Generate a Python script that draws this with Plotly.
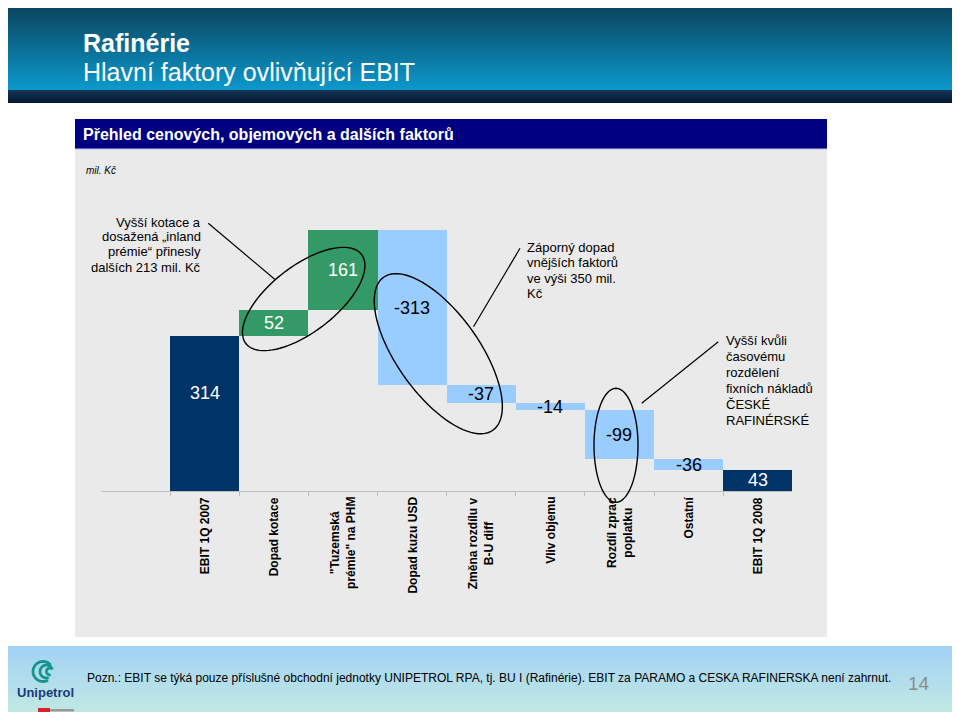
import numpy as np
import plotly.graph_objects as go

# ---------------- data ----------------
categories = ["EBIT 1Q 2007", "Dopad kotace", "\"Tuzemská<br>prémie\" na PHM",
              "Dopad kuzu USD", "Změna rozdílu v<br>B-U diff", "Vliv objemu",
              "Rozdíl zprac<br>poplatku", "Ostatní", "EBIT 1Q 2008"]
values = [314, 52, 161, -313, -37, -14, -99, -36, 43]
measures = ["total", "delta", "delta", "delta", "delta", "delta", "delta", "delta", "total"]

title_main = "Rafinérie"
title_sub = "Hlavní faktory ovlivňující EBIT"
section_title = "Přehled cenových, objemových a dalších faktorů"
unit_label = "mil. Kč"
note_lines_1 = ["Vyšší kotace a", "dosažená „inland", "prémie“ přinesly", "dalších 213 mil. Kč"]
note_lines_2 = ["Záporný dopad", "vnějších faktorů", "ve výši 350 mil.", "Kč"]
note_lines_3 = ["Vyšší kvůli", "časovému", "rozdělení", "fixních nákladů", "ČESKÉ", "RAFINÉRSKÉ"]
footer_text = ("Pozn.: EBIT se týká pouze příslušné obchodní jednotky UNIPETROL RPA, tj. BU I "
               "(Rafinérie). EBIT za PARAMO a CESKA RAFINERSKA není zahrnut.")
page_number = "14"

# ---------------- waterfall geometry from data ----------------
lows, highs = [], []
running = 0
for i, (v, m) in enumerate(zip(values, measures)):
    if m == "total":
        lo, hi = 0, v
        running = v
    else:
        lo = running
        hi = running + v
        # the chart closes the last step onto the following total
        if i + 1 < len(values) and measures[i + 1] == "total":
            hi = values[i + 1]
        running = hi
    lows.append(lo)
    highs.append(hi)

NAVY, GREEN, LIGHT = "#003366", "#339966", "#99CCFF"
bar_colors = []
text_colors = []
for v, m in zip(values, measures):
    if m == "total":
        bar_colors.append(NAVY); text_colors.append("white")
    elif v >= 0:
        bar_colors.append(GREEN); text_colors.append("white")
    else:
        bar_colors.append(LIGHT); text_colors.append("black")

W, H = 960, 716
OFF = 8          # page body margin of the html page
PAD = 3          # annotation inner padding
FONT = "Liberation Sans, Arial, sans-serif"


def X(px):
    return (px - OFF) / W


def Y(py):
    return 1 - (py - OFF) / H


fig = go.Figure()
fig.add_trace(go.Bar(
    x=categories,
    y=[abs(h - l) for l, h in zip(lows, highs)],
    base=[min(l, h) for l, h in zip(lows, highs)],
    marker=dict(color=bar_colors, line=dict(width=0)),
    width=1.0,
    hoverinfo="skip",
    showlegend=False,
))

shapes = []
annotations = []


def grad_rect(x0, x1, y0, y1, c0, c1, steps=None):
    n = steps or int(y1 - y0)
    for k in range(n):
        t = k / max(n - 1, 1)
        c = tuple(int(round(c0[j] + (c1[j] - c0[j]) * t)) for j in range(3))
        ya = y0 + (y1 - y0) * k / n
        yb = y0 + (y1 - y0) * (k + 1) / n + 0.6
        shapes.append(dict(type="rect", xref="paper", yref="paper", layer="below",
                           x0=X(x0), x1=X(x1), y0=Y(ya), y1=Y(min(yb, y1)),
                           fillcolor="rgb(%d,%d,%d)" % c, line=dict(width=0)))


# banner
grad_rect(5, 970, 0, 90, (10, 62, 84), (12, 152, 204))
grad_rect(5, 970, 90, 103, (18, 52, 84), (6, 26, 50))
# section header & panel
shapes.append(dict(type="rect", xref="paper", yref="paper", layer="below",
                   x0=X(75), x1=X(827), y0=Y(637), y1=Y(149),
                   fillcolor="#EAEAEA", line=dict(width=0)))
shapes.append(dict(type="rect", xref="paper", yref="paper", layer="below",
                   x0=X(75), x1=X(827), y0=Y(149), y1=Y(119),
                   fillcolor="#000080", line=dict(width=0)))
shapes.append(dict(type="line", xref="paper", yref="paper", layer="below",
                   x0=X(75), x1=X(827), y0=Y(149), y1=Y(149),
                   line=dict(color="#B8C4F0", width=1)))
# footer
grad_rect(5, 957, 646, 712, (162, 210, 246), (192, 232, 226))


def ellipse_path(cx, cy, a, b, phi_deg, n=90):
    phi = np.radians(phi_deg)
    t = np.linspace(0, 2 * np.pi, n, endpoint=False)
    xs = cx + a * np.cos(t) * np.cos(phi) - b * np.sin(t) * np.sin(phi)
    ys = cy + a * np.cos(t) * np.sin(phi) + b * np.sin(t) * np.cos(phi)
    pts = ["%s%.5f,%.5f" % ("M" if k == 0 else "L", X(x), Y(y)) for k, (x, y) in enumerate(zip(xs, ys))]
    return " ".join(pts) + " Z"


for (cx, cy, a, b, phi) in [(303.7, 299, 73, 33, -37.6), (438.3, 353.7, 94, 41, 54.4), (616, 445.3, 57, 22, 90)]:
    shapes.append(dict(type="path", xref="paper", yref="paper", layer="above",
                       path=ellipse_path(cx, cy, a, b, phi),
                       line=dict(color="black", width=1.4), fillcolor="rgba(0,0,0,0)"))

for (x0, y0, x1, y1) in [(208.3, 223.3, 275, 279.5), (520, 248.3, 473.5, 326.7), (718.3, 341.7, 641.7, 403.3)]:
    shapes.append(dict(type="line", xref="paper", yref="paper", layer="above",
                       x0=X(x0), y0=Y(y0), x1=X(x1), y1=Y(y1),
                       line=dict(color="black", width=1.2)))


# logo (approximation)
def arc_path(cx, cy, r, a0, a1, n=40):
    t = np.radians(np.linspace(a0, a1, n))
    xs = cx + r * np.cos(t)
    ys = cy - r * np.sin(t)
    return " ".join("%s%.5f,%.5f" % ("M" if k == 0 else "L", X(x), Y(y)) for k, (x, y) in enumerate(zip(xs, ys)))


for r, (a0, a1), cx in [(10, (40, 300), 43), (6.5, (40, 290), 46.5), (3.5, (40, 280), 50)]:
    shapes.append(dict(type="path", xref="paper", yref="paper", layer="above",
                       path=arc_path(cx, 671.5, r, a0, a1),
                       line=dict(color="#12968A", width=2.8)))
shapes.append(dict(type="rect", xref="paper", yref="paper", x0=X(38), x1=X(50), y0=Y(712), y1=Y(708),
                   fillcolor="#D8232A", line=dict(width=0)))
shapes.append(dict(type="rect", xref="paper", yref="paper", x0=X(50), x1=X(74), y0=Y(711.5), y1=Y(709),
                   fillcolor="#9A9A9A", line=dict(width=0)))


def txt(text, x, y, size, color="black", xanchor="left", bold=False, italic=False, **kw):
    t = text
    if bold:
        t = "<b>%s</b>" % t
    if italic:
        t = "<i>%s</i>" % t
    if xanchor == "left":
        x = x - PAD
    elif xanchor == "right":
        x = x + PAD
    d = dict(text=t, x=X(x), y=Y(y), xref="paper", yref="paper", xanchor=xanchor, yanchor="middle",
             showarrow=False, font=dict(family=FONT, size=size, color=color))
    d.update(kw)
    annotations.append(d)


txt(title_main, 84, 43.3, 25, "white", bold=True)
txt(title_sub, 84, 72.3, 25, "white")
txt(section_title, 84, 134.4, 16, "white", bold=True)
txt(unit_label, 86.5, 170, 10, "black", italic=True)

for k, line in enumerate(note_lines_1):
    txt(line, 200, 222 + 15 * k, 13, "black", xanchor="right")
for k, line in enumerate(note_lines_2):
    txt(line, 528, 247.5 + 15.3 * k, 13, "black")
for k, line in enumerate(note_lines_3):
    txt(line, 726.5, 340.5 + 16 * k, 13, "black")

txt(footer_text, 88, 677.5, 12, "black")
txt(page_number, 919, 683, 19, "#8C8C8C", xanchor="center")
txt("Unipetrol", 45, 692.5, 13, "#1B3A7A", xanchor="center", bold=True)

# value labels (data-driven)
for i, (c, v, lo, hi, col) in enumerate(zip(categories, values, lows, highs, text_colors)):
    level = (lo + hi) / 2
    if i == 0:
        level = hi * 0.63
    annotations.append(dict(x=c, y=level, xref="x", yref="y", text=str(v), showarrow=False,
                            font=dict(family=FONT, size=18, color=col), xanchor="center", yanchor="middle"))

# category labels, rotated
for c in categories:
    annotations.append(dict(x=c, y=Y(495), xref="x", yref="paper", text="<b>%s</b>" % c, showarrow=False,
                            textangle=-90, align="center", xanchor="center", yanchor="top",
                            font=dict(family=FONT, size=12, color="black")))

YMAX = (491 - 200) / 0.4946
fig.update_layout(
    template="none",
    width=W, height=H,
    margin=dict(l=0, r=0, t=0, b=0),
    paper_bgcolor="white",
    plot_bgcolor="rgba(0,0,0,0)",
    bargap=0,
    showlegend=False,
    shapes=shapes,
    annotations=annotations,
    xaxis=dict(domain=[X(101), X(792.3)], type="category", range=[-1.5, len(categories) - 0.5],
               showline=True, linecolor="#BFBFBF", linewidth=1, ticks="outside", tickson="boundaries",
               ticklen=4, tickcolor="#BFBFBF", showticklabels=False, showgrid=False, zeroline=False,
               automargin=False, fixedrange=True),
    yaxis=dict(domain=[Y(491), Y(200)], range=[0, YMAX], visible=False, showgrid=False,
               zeroline=False, automargin=False, fixedrange=True),
)

fig.write_html("out.html")
